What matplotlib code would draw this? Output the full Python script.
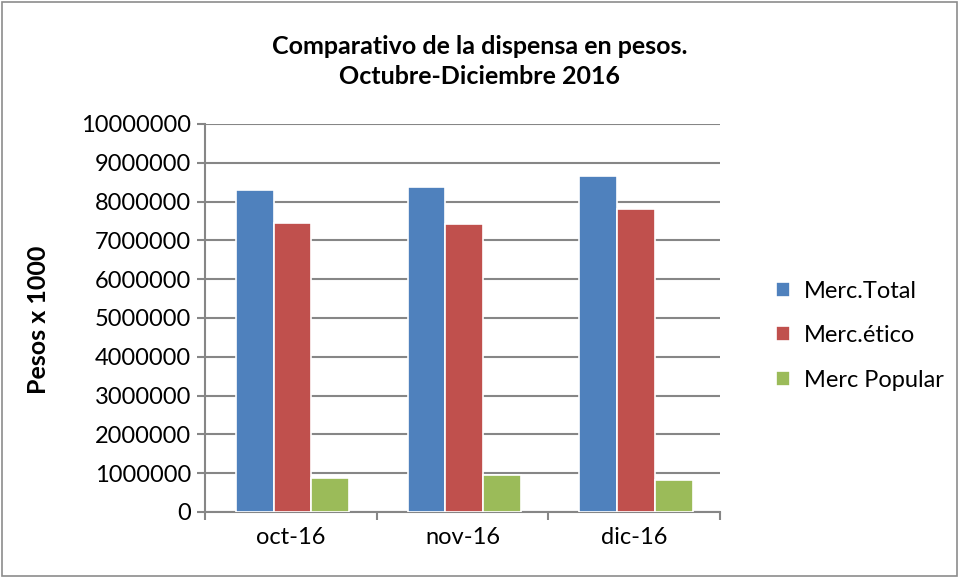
import matplotlib
matplotlib.use("Agg")
import matplotlib.pyplot as plt
import numpy as np
from matplotlib.patches import Rectangle

categories = ["oct-16", "nov-16", "dic-16"]
series_names = ["Merc.Total", "Merc.ético", "Merc Popular"]
merc_total = [8300000, 8370000, 8670000]
merc_etico = [7440000, 7410000, 7800000]
merc_popular = [870000, 950000, 830000]
colors = ["#4F81BD", "#C0504D", "#9BBB59"]
yticks = list(range(0, 10000001, 1000000))

plt.rcParams['font.family'] = ['Lato', 'DejaVu Sans']

fig = plt.figure(figsize=(9.59, 5.78), dpi=100)
fig.patches.append(Rectangle((0.002, 0.003), 0.996, 0.994, transform=fig.transFigure,
                             fill=False, edgecolor="#8c8c8c", linewidth=1.2))
ax = fig.add_axes([0.2138, 0.1142, 0.7508 - 0.2138, 0.7855 - 0.1142])

x = np.arange(len(categories))
w = 0.22
for i, (vals, name, c) in enumerate(zip([merc_total, merc_etico, merc_popular], series_names, colors)):
    ax.bar(x + (i - 1) * w + 0.01, vals, width=w, color=c, edgecolor="white", linewidth=1.2,
           label=name, zorder=3)

ax.set_xlim(-0.5, 2.5)
ax.set_ylim(0, 10000000)
ax.set_yticks(yticks)
ax.set_yticklabels([str(v) for v in yticks], fontsize=17)
ax.set_xticks(x)
ax.set_xticklabels(categories, fontsize=17)
ax.set_xticks([-0.5, 0.5, 1.5, 2.5], minor=True)
ax.tick_params(axis='x', which='major', length=0, pad=11)
ax.tick_params(axis='x', which='minor', length=6, color="#868686", width=1.5)
ax.tick_params(axis='y', length=6, color="#868686", width=1.5, pad=4)
ax.grid(axis='y', color="#868686", linewidth=1.5, zorder=0)
for s in ["top", "right"]:
    ax.spines[s].set_visible(False)
for s in ["left", "bottom"]:
    ax.spines[s].set_color("#868686")
    ax.spines[s].set_linewidth(1.5)

fig.text(0.040, 0.446, "Pesos x 1000", rotation=90, ha="center", va="center",
         fontsize=18, fontweight="bold")

fig.text(0.5, 0.894, "Comparativo de la dispensa en pesos.\nOctubre-Diciembre 2016",
         ha="center", va="center", fontsize=18, fontweight="bold", linespacing=1.35)

leg = fig.legend(loc="center left", bbox_to_anchor=(0.787, 0.419), frameon=False,
                 fontsize=17, handlelength=0.6, handleheight=0.6, labelspacing=1.0,
                 handletextpad=0.6)

fig.savefig("out.png", dpi=100)
